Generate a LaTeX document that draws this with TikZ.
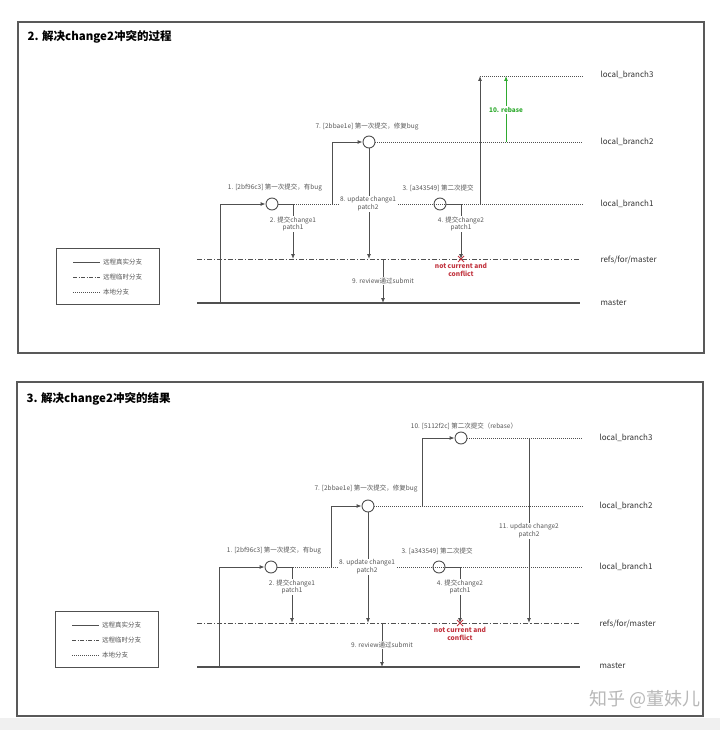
\documentclass[tikz,border=0pt]{standalone}
\usepackage{fontspec}
\setmainfont{Noto Sans CJK SC}
\usepackage{xcolor}
\usepackage{tikz}
\usetikzlibrary{arrows.meta,shapes.misc}
\definecolor{lineg}{HTML}{505050}
\definecolor{txtg}{HTML}{555555}
\definecolor{redc}{HTML}{C23540}
\definecolor{greenc}{HTML}{2FAA2F}

\begin{document}
\begin{tikzpicture}[x=1pt,y=-1pt,>={Latex[length=5pt,width=4pt]},
commit/.style={circle,draw=lineg,fill=white,line width=0.9pt,minimum size=12pt,inner sep=0pt},
realbr/.style={lineg,line width=1.3pt},
tempbr/.style={lineg,line width=0.9pt,dash pattern=on 5pt off 2pt on 1.2pt off 2pt},
localbr/.style={lineg,line width=0.7pt,dash pattern=on 0.8pt off 1.2pt},
conn/.style={lineg,line width=0.9pt,->},
brlabel/.style={anchor=west,text=black!80,font=\fontsize{8}{9}\selectfont},
cmt/.style={text=txtg,font=\fontsize{6.5}{7.8}\selectfont,align=center,inner sep=1pt},
panel/.style={draw=black!65,line width=1.3pt},
ptitle/.style={anchor=west,font=\fontsize{11.5}{13}\selectfont\bfseries},
legline/.style={lineg,line width=0.8pt}]
\useasboundingbox (0,0) rectangle (720,730);
\fill[white] (0,0) rectangle (720,730);
\fill[black!6] (0,718) rectangle (720,730);

% ---- panel 2. process
\draw[panel] (18,22) rectangle (704,353);
\node[ptitle] (t1) at (24,37) {2. 解决change2冲突的过程};
\coordinate (p1m0) at (197,303); \coordinate (p1m1) at (580,303);
\coordinate (p1r0) at (197,259); \coordinate (p1r1) at (580,259);
\draw[realbr] (p1m0)--(p1m1);
\draw[tempbr] (p1r0)--(p1r1);
\node[commit] (p1c1) at (272,204) {};
\node[commit] (p1c2) at (369,142) {};
\node[commit] (p1c3) at (440,204) {};
\coordinate (p1e1) at (583,204); \coordinate (p1e2) at (583,142);
\coordinate (p1s3) at (480,76); \coordinate (p1e3) at (583,76);
\draw[localbr] (p1c1)--(p1e1);
\draw[localbr] (p1c2)--(p1e2);
\draw[localbr] (p1s3)--(p1e3);
\node[brlabel] (p1b3) at (597,75) {local\_branch3};
\node[brlabel] (p1b2) at (597,142) {local\_branch2};
\node[brlabel] (p1b1) at (597,204) {local\_branch1};
\node[brlabel] (p1bf) at (597,260) {refs/for/master};
\node[brlabel] (p1bm) at (597,303) {master};
\draw[conn] (220,303) |- (p1c1);
\draw[conn] (p1c1) -| (293,259);
\node[cmt,fill=white] (p1l2) at (293,224) {2. 提交change1\\patch1};
\node[cmt] (p1l1) at (275,188) {1. [2bf96c3] 第一次提交，有bug};
\draw[conn] (332,204) |- (p1c2);
\node[cmt] (p1l7) at (367,127) {7. [2bbae1e] 第一次提交，修复bug};
\draw[conn] (p1c2) -- (369,259);
\node[cmt,fill=white] (p1l8) at (368,204) {8. update change1\\patch2};
\node[cmt] (p1l3) at (438,188) {3. [a343549] 第二次提交};
\node[cross out,draw=redc,line width=1pt,minimum size=5pt,inner sep=0pt] (p1x) at (461,259) {};
\draw[conn] (p1c3) -| (p1x.center);
\node[cmt,fill=white] (p1l4) at (461,224) {4. 提交change2\\patch1};
\node[cmt,text=redc,font=\fontsize{6.6}{7.8}\selectfont\bfseries] (p1nc) at (461,270) {not current and\\conflict};
\draw[conn] (480,204) -- (p1s3);
\draw[conn,greenc] (506,142) -- (506,76);
\node[cmt,fill=white,text=greenc,font=\fontsize{6.4}{7}\selectfont\bfseries] (p1rb) at (506,110) {10. rebase};
\draw[conn] (383,259) -- (383,303);
\node[cmt,fill=white] (p1l9) at (383,281) {9. review通过submit};
\draw[legline] (56,248) rectangle (159,304);
\draw[legline,line width=1pt] (73,262) -- (100,262);
\draw[legline,dash pattern=on 4pt off 1.5pt on 1pt off 1.5pt] (73,277) -- (100,277);
\draw[legline,dash pattern=on 0.8pt off 1.2pt] (73,292) -- (100,292);
\node[cmt,anchor=west] (p1g1) at (102,262) {远程真实分支};
\node[cmt,anchor=west] (p1g2) at (102,277) {远程临时分支};
\node[cmt,anchor=west] (p1g3) at (102,292) {本地分支};

% ---- panel 3. result
\draw[panel] (17,382) rectangle (703,716);
\node[ptitle] (t2) at (23,399) {3. 解决change2冲突的结果};
\coordinate (p2m0) at (197,667); \coordinate (p2m1) at (580,667);
\coordinate (p2r0) at (197,623); \coordinate (p2r1) at (580,623);
\draw[realbr] (p2m0)--(p2m1);
\draw[tempbr] (p2r0)--(p2r1);
\node[commit] (p2c1) at (271,567) {};
\node[commit] (p2c2) at (368,506) {};
\node[commit] (p2c3) at (439,567) {};
\node[commit] (p2c4) at (461,438) {};
\coordinate (p2e1) at (583,567); \coordinate (p2e2) at (583,506);
\coordinate (p2e3) at (583,438);
\draw[localbr] (p2c1)--(p2e1);
\draw[localbr] (p2c2)--(p2e2);
\draw[localbr] (p2c4)--(p2e3);
\node[brlabel] (p2b3) at (596,438) {local\_branch3};
\node[brlabel] (p2b2) at (596,506) {local\_branch2};
\node[brlabel] (p2b1) at (596,567) {local\_branch1};
\node[brlabel] (p2bf) at (596,624) {refs/for/master};
\node[brlabel] (p2bm) at (596,666) {master};
\draw[conn] (219,667) |- (p2c1);
\draw[conn] (p2c1) -| (292,623);
\node[cmt,fill=white] (p2l2) at (292,587) {2. 提交change1\\patch1};
\node[cmt] (p2l1) at (274,551) {1. [2bf96c3] 第一次提交，有bug};
\draw[conn] (331,567) |- (p2c2);
\node[cmt] (p2l7) at (366,489) {7. [2bbae1e] 第一次提交，修复bug};
\draw[conn] (p2c2) -- (368,623);
\node[cmt,fill=white] (p2l8) at (367,567) {8. update change1\\patch2};
\node[cmt] (p2l3) at (437,551) {3. [a343549] 第二次提交};
\node[cross out,draw=redc,line width=1pt,minimum size=5pt,inner sep=0pt] (p2x) at (460,623) {};
\draw[conn] (p2c3) -| (p2x.center);
\node[cmt,fill=white] (p2l4) at (460,587) {4. 提交change2\\patch1};
\node[cmt,text=redc,font=\fontsize{6.6}{7.8}\selectfont\bfseries] (p2nc) at (460,634) {not current and\\conflict};
\draw[conn] (422,506) |- (p2c4);
\node[cmt] (p2l10) at (464,426) {10. [5112f2c] 第二次提交（rebase）};
\draw[conn] (529,438) -- (529,623);
\node[cmt,fill=white] (p2l11) at (529,531) {11. update change2\\patch2};
\draw[conn] (382,623) -- (382,667);
\node[cmt,fill=white] (p2l9) at (382,645) {9. review通过submit};
\draw[legline] (55,611) rectangle (158,667);
\draw[legline,line width=1pt] (72,625) -- (99,625);
\draw[legline,dash pattern=on 4pt off 1.5pt on 1pt off 1.5pt] (72,640) -- (99,640);
\draw[legline,dash pattern=on 0.8pt off 1.2pt] (72,655) -- (99,655);
\node[cmt,anchor=west] (p2g1) at (101,625) {远程真实分支};
\node[cmt,anchor=west] (p2g2) at (101,640) {远程临时分支};
\node[cmt,anchor=west] (p2g3) at (101,655) {本地分支};

\node[anchor=east,text=black!28,font=\fontsize{18}{20}\selectfont] (wm) at (704,699) {知乎 @董妹儿};
\end{tikzpicture}
\end{document}
